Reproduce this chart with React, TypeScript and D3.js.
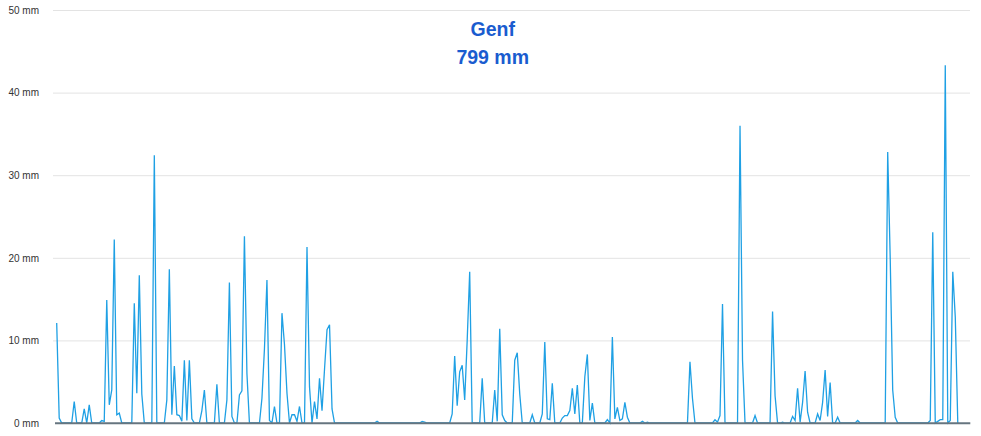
import { useEffect, useRef } from 'react';
import * as d3 from 'd3';

// daily precipitation in mm, one array per month (data stops at Dec 27)
const jan = [12.1, 0.6, 0, 0, 0, 0, 0, 2.6, 0, 0, 0, 1.7, 0, 2.2, 0, 0, 0, 0, 0.3, 0.2, 14.9, 2.2, 4.0, 22.2, 1.0, 1.2, 0, 0, 0, 0, 0];
const feb = [14.5, 3.6, 17.9, 3.5, 0, 0, 0, 0, 32.4, 0, 0, 0, 0, 2.8, 18.6, 1.0, 6.9, 1.0, 0.9, 0.2, 7.6, 0.3, 7.6, 0.5, 0, 0, 0, 1.5];
const mar = [4.0, 0, 0, 0, 0, 4.7, 0, 0, 0, 2.8, 17.0, 0.8, 0, 0, 3.4, 3.9, 22.6, 6.0, 0, 0, 0, 0, 0, 3.0, 9.0, 17.3, 0.3, 0, 2.0, 0, 0];
const apr = [13.3, 9.5, 3.6, 0, 1.0, 1.0, 0.2, 2.0, 0, 0, 21.3, 4.4, 0, 2.6, 0.5, 5.4, 1.5, 6.5, 11.3, 11.9, 1.7, 0, 0, 0, 0, 0, 0, 0, 0, 0];
const may = [0, 0, 0, 0, 0, 0, 0, 0, 0.2, 0, 0, 0, 0, 0, 0, 0, 0, 0, 0, 0, 0, 0, 0, 0, 0, 0, 0.2, 0.1, 0, 0, 0];
const jun = [0, 0, 0, 0, 0, 0, 0, 1.1, 8.1, 2.1, 6.2, 7.0, 2.8, 10.0, 18.3, 0, 0, 0, 0, 5.4, 0, 0, 0, 0, 4.0, 0.2, 11.4, 1.0, 0.3, 0];
const jul = [0, 0, 7.6, 8.5, 3.5, 0, 0, 0, 0, 1.0, 0, 0, 0, 1.1, 9.8, 0.5, 0.4, 4.8, 0, 0, 0, 0.6, 0.9, 0.9, 1.5, 4.2, 1.1, 4.6, 0, 0, 5.6];
const aug = [8.3, 0.3, 2.4, 0, 0, 0, 0, 0, 0.4, 0, 10.4, 0.5, 1.9, 0.3, 0.5, 2.5, 0.7, 0, 0, 0, 0, 0, 0.2, 0, 0.1, 0, 0, 0, 0, 0, 0];
const sep = [0, 0, 0, 0, 0, 0, 0, 0, 0, 0, 7.4, 3.0, 0, 0, 0, 0, 0, 0, 0, 0, 0.4, 0.1, 0.9, 14.4, 0, 0, 0, 0, 0, 0];
const oct = [36.0, 7.6, 0, 0, 0, 0, 0.9, 0, 0, 0, 0, 0, 0, 13.5, 3.3, 0, 0, 0.1, 0, 0, 0, 0.8, 0.3, 4.2, 0.1, 2.5, 6.3, 1.3, 0, 0, 0];
const nov = [1.1, 0.3, 2.5, 6.4, 0.8, 4.9, 0, 0, 0.7, 0, 0, 0, 0, 0, 0, 0, 0.3, 0, 0, 0, 0, 0, 0, 0, 0, 0, 0, 0, 32.8, 20.0];
const dec = [4.0, 0.7, 0, 0, 0, 0, 0, 0, 0, 0, 0, 0, 0, 0, 0, 0.3, 23.1, 0, 0.2, 0.4, 0.4, 43.3, 0, 0.3, 18.3, 12.8, 0];

const yTicks = [0, 10, 20, 30, 40, 50];
const stationName = 'Genf';
const totalLabel = '799 mm';
const daysInYear = 365;

const width = 981;
const height = 436;

export default function App() {
  const svgRef = useRef<SVGSVGElement>(null);

  useEffect(() => {
    if (!svgRef.current) return;
    const svg = d3.select(svgRef.current);
    svg.selectAll('*').remove();

    const values = [...jan, ...feb, ...mar, ...apr, ...may, ...jun, ...jul, ...aug, ...sep, ...oct, ...nov, ...dec];

    const x = d3.scaleLinear().domain([0, daysInYear]).range([56.7, 970.3]);
    const y = d3.scaleLinear().domain([0, 50]).range([423, 10]);

    // grid
    svg
      .append('g')
      .call(
        d3
          .axisLeft(y)
          .tickValues(yTicks.filter((t) => t > 0))
          .tickSize(-(970 - 53))
          .tickFormat(() => '')
      )
      .attr('transform', 'translate(53,0)')
      .call((group) => {
        group.select('.domain').remove();
        group.selectAll('.tick line').attr('stroke', '#e3e3e3').attr('stroke-width', 1);
      });

    // y labels
    svg
      .append('g')
      .attr('transform', 'translate(39,0)')
      .call(
        d3
          .axisLeft(y)
          .tickValues(yTicks)
          .tickSize(0)
          .tickPadding(0)
          .tickFormat((d) => `${d} mm`)
      )
      .call((group) => {
        group.select('.domain').remove();
        group
          .selectAll('.tick text')
          .attr('fill', '#333')
          .attr('font-size', 10)
          .attr('font-family', "'Liberation Sans', Arial, sans-serif");
      });

    const line = d3
      .line<number>()
      .x((_, i) => x(i))
      .y((d) => y(d));

    svg
      .append('path')
      .datum(values)
      .attr('fill', 'none')
      .attr('stroke', '#1fa0e4')
      .attr('stroke-width', 1.3)
      .attr('stroke-linejoin', 'miter')
      .attr('d', line);

    // baseline
    svg
      .append('line')
      .attr('x1', 55)
      .attr('x2', 970.3)
      .attr('y1', y(0) + 0.3)
      .attr('y2', y(0) + 0.3)
      .attr('stroke', '#66757f')
      .attr('stroke-width', 2);

    svg
      .append('text')
      .attr('x', 492.7)
      .attr('y', 35.7)
      .attr('text-anchor', 'middle')
      .attr('fill', '#1a5ccf')
      .attr('font-size', 19.5)
      .attr('font-weight', 'bold')
      .attr('font-family', "'Liberation Sans', Arial, sans-serif")
      .text(stationName);

    svg
      .append('text')
      .attr('x', 492.7)
      .attr('y', 64.3)
      .attr('text-anchor', 'middle')
      .attr('fill', '#1a5ccf')
      .attr('font-size', 19.5)
      .attr('font-weight', 'bold')
      .attr('font-family', "'Liberation Sans', Arial, sans-serif")
      .text(totalLabel);
  }, []);

  return (
    <div style={{ position: 'absolute', left: 0, top: 0, background: '#fff' }}>
      <svg ref={svgRef} width={width} height={height} style={{ display: 'block' }} />
    </div>
  );
}
